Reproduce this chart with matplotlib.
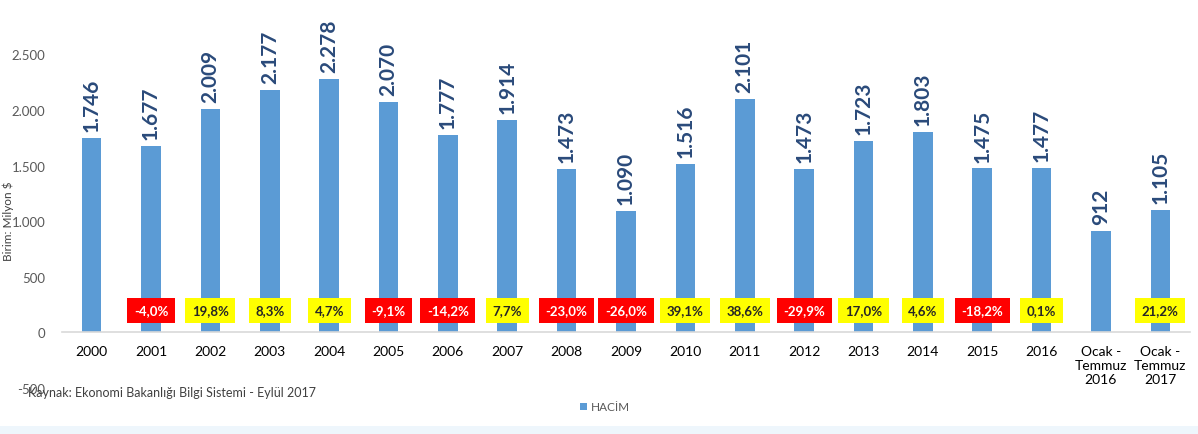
import matplotlib
matplotlib.use("Agg")
import matplotlib.pyplot as plt
from matplotlib.patches import Rectangle

categories = ["2000", "2001", "2002", "2003", "2004", "2005", "2006", "2007",
              "2008", "2009", "2010", "2011", "2012", "2013", "2014", "2015",
              "2016", "Ocak -\nTemmuz\n2016", "Ocak -\nTemmuz\n2017"]
volume = [1746, 1677, 2009, 2177, 2278, 2070, 1777, 1914, 1473, 1090,
          1516, 2101, 1473, 1723, 1803, 1475, 1477, 912, 1105]
change = [None, -4.0, 19.8, 8.3, 4.7, -9.1, -14.2, 7.7, -23.0, -26.0,
          39.1, 38.6, -29.9, 17.0, 4.6, -18.2, 0.1, None, 21.2]
yticks = [-500, 0, 500, 1000, 1500, 2000, 2500]

plt.rcParams['font.family'] = ['Lato', 'DejaVu Sans']

fig = plt.figure(figsize=(11.98, 4.35), dpi=100)
ax = fig.add_axes([62/1198, 1-389/435, (1190-62)/1198, (389-55.5)/435])

x = list(range(len(categories)))
bars = ax.bar(x, volume, width=0.33, color="#5B9BD5", label="HACİM", zorder=2)

def fmt(v):
    return f"{v:,}".replace(",", ".")

for xi, v in zip(x, volume):
    ax.annotate(fmt(v), (xi, v), xytext=(0, 5), textcoords="offset points",
                rotation=90, ha="center", va="bottom", fontsize=15,
                fontweight="bold", color="#2A4A7A", clip_on=False)

for xi, c in zip(x, change):
    if c is None:
        continue
    s = f"{c:.1f}%".replace(".", ",")
    if c < 0:
        fc, tc = "#FF0000", "white"
    else:
        fc, tc = "#FFFF00", "#262626"
    ax.text(xi, 200, s, ha="center", va="center", fontsize=9.5,
            fontweight="bold", color=tc, zorder=4,
            bbox=dict(boxstyle="square,pad=0.5", fc=fc, ec="none"))

ax.set_xlim(-0.5, len(categories) - 0.5)
ax.set_ylim(-500, 2500)
ax.set_yticks(yticks)
ax.set_yticklabels([fmt(t) for t in yticks], fontsize=9.5, color="#595959")
ax.set_xticks(x)
ax.set_xticklabels(categories, fontsize=9.5, color="#595959", linespacing=1.45)
ax.tick_params(axis="both", length=0)
ax.tick_params(axis="x", pad=9)
ax.tick_params(axis="y", pad=12)
for sp in ["top", "right", "left"]:
    ax.spines[sp].set_visible(False)
ax.spines["bottom"].set_position(("data", 0))
ax.spines["bottom"].set_color("#D9D9D9")
ax.spines["bottom"].set_linewidth(1.2)

fig.text(8/1198, 1-221/435, "Birim: Milyon $", rotation=90, ha="center",
         va="center", fontsize=8.5, color="#404040")
fig.text(28/1198, 1-393/435, "Kaynak: Ekonomi Bakanlığı Bilgi Sistemi - Eylül 2017",
         ha="left", va="center", fontsize=9, color="#404040")

fig.legend(handles=[bars], labels=["HACİM"], loc="center",
           bbox_to_anchor=(605/1198, 1-408/435), frameon=False, fontsize=8.5,
           handlelength=0.6, handleheight=0.6, handletextpad=0.4,
           labelcolor="#595959")

fig.patches.append(Rectangle((0, 0), 1, 8/435, transform=fig.transFigure,
                             facecolor="#EEF6FC", edgecolor="none", zorder=0))

fig.savefig("out.png", dpi=100)
